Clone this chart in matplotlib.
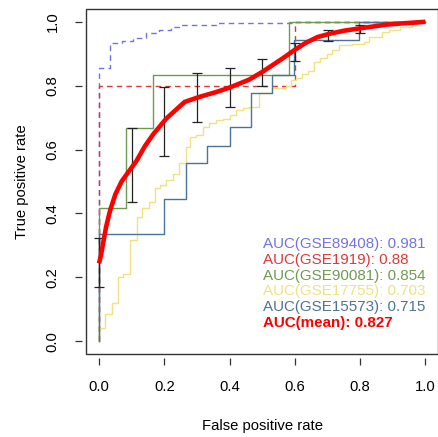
import matplotlib
matplotlib.use("Agg")
import matplotlib.pyplot as plt
from matplotlib.patches import Rectangle

plt.rcParams['font.family'] = ['Liberation Sans', 'DejaVu Sans']

# ROC corner points per dataset (false positive rate, true positive rate)
fpr_89408 = [0, 0, 0.034, 0.034, 0.069, 0.069, 0.104, 0.104, 0.143, 0.143, 0.183, 0.183,
             0.22, 0.22, 0.247, 0.247, 0.357, 0.357, 0.6, 0.6, 1.0]
tpr_89408 = [0, 0.855, 0.855, 0.934, 0.934, 0.939, 0.939, 0.95, 0.95, 0.966, 0.966, 0.975,
             0.975, 0.984, 0.984, 0.99, 0.99, 0.995, 0.995, 1.0, 1.0]

fpr_1919 = [0, 0, 0.6, 0.6, 1.0]
tpr_1919 = [0, 0.8, 0.8, 1.0, 1.0]

fpr_90081 = [0, 0, 1/12, 1/12, 2/12, 2/12, 7/12, 7/12, 1.0]
tpr_90081 = [0, 5/12, 5/12, 8/12, 8/12, 10/12, 10/12, 1.0, 1.0]

fpr_17755 = [0, 0, 0.018, 0.018, 0.039, 0.039, 0.059, 0.059, 0.074, 0.074, 0.095, 0.095,
             0.115, 0.115, 0.133, 0.133, 0.153, 0.153, 0.171, 0.171, 0.186, 0.186,
             0.206, 0.206, 0.226, 0.226, 0.245, 0.245, 0.265, 0.265, 0.28, 0.28,
             0.298, 0.298, 0.318, 0.318, 0.338, 0.338, 0.359, 0.359, 0.379, 0.379,
             0.4, 0.4, 0.42, 0.42, 0.44, 0.44, 0.46, 0.46, 0.491, 0.491, 0.53, 0.53,
             0.572, 0.572, 0.587, 0.587, 0.603, 0.603, 0.623, 0.623, 0.641, 0.641,
             0.658, 0.658, 0.677, 0.677, 0.697, 0.697, 0.714, 0.714, 0.735, 0.735,
             0.775, 0.775, 0.811, 0.811, 0.826, 0.826, 0.867, 0.867, 0.887, 0.887,
             0.923, 0.923, 0.958, 0.958, 0.979, 0.979, 1.0]
tpr_17755 = [0, 0.04, 0.04, 0.086, 0.086, 0.12, 0.12, 0.2, 0.2, 0.21, 0.21, 0.317,
             0.317, 0.39, 0.39, 0.416, 0.416, 0.437, 0.437, 0.479, 0.479, 0.489,
             0.489, 0.505, 0.505, 0.523, 0.523, 0.557, 0.557, 0.609, 0.609, 0.64,
             0.64, 0.645, 0.645, 0.671, 0.671, 0.682, 0.682, 0.692, 0.692, 0.697,
             0.697, 0.708, 0.708, 0.723, 0.723, 0.729, 0.729, 0.734, 0.734, 0.776, 0.776, 0.794,
             0.794, 0.8, 0.8, 0.817, 0.817, 0.824, 0.824, 0.836, 0.836, 0.846,
             0.846, 0.874, 0.874, 0.888, 0.888, 0.9, 0.9, 0.911, 0.911, 0.927,
             0.927, 0.932, 0.932, 0.937, 0.937, 0.952, 0.952, 0.968, 0.968, 0.973,
             0.973, 0.984, 0.984, 0.992, 0.992, 1.0, 1.0]

fpr_15573 = [0, 0, 0.199, 0.199, 0.267, 0.267, 0.331, 0.331, 0.4, 0.4, 0.465, 0.465,
             0.531, 0.531, 0.598, 0.598, 0.796, 0.796, 1.0]
tpr_15573 = [0, 0.336, 0.336, 0.445, 0.445, 0.557, 0.557, 0.612, 0.612, 0.671, 0.671,
             0.778, 0.778, 0.833, 0.833, 0.944, 0.944, 1.0, 1.0]

# averaged curve
fpr_mean = [0, 0.006, 0.013, 0.022, 0.034, 0.05, 0.069, 0.09, 0.115, 0.14, 0.166, 0.206,
            0.262, 0.308, 0.359, 0.4, 0.46, 0.5, 0.562, 0.598, 0.633, 0.669, 0.704,
            0.75, 0.796, 0.887, 1.0]
tpr_mean = [0.244, 0.27, 0.31, 0.36, 0.41, 0.46, 0.5, 0.53, 0.565, 0.61, 0.648, 0.697,
            0.749, 0.765, 0.78, 0.794, 0.819, 0.843, 0.885, 0.911, 0.934, 0.952, 0.962,
            0.972, 0.979, 0.992, 1.0]

# spread of TPR at fixed FPR
err_x = [0.0, 0.1, 0.2, 0.3, 0.4, 0.5, 0.6, 0.7, 0.8, 0.9]
err_lo = [0.171, 0.435, 0.58, 0.687, 0.733, 0.80, 0.877, 0.939, 0.966, 0.99]
err_hi = [0.322, 0.668, 0.796, 0.84, 0.854, 0.883, 0.935, 0.973, 0.991, 0.996]

labels = ['AUC(GSE89408): 0.981', 'AUC(GSE1919): 0.88', 'AUC(GSE90081): 0.854',
          'AUC(GSE17755): 0.703', 'AUC(GSE15573): 0.715', 'AUC(mean): 0.827']
colors = ['#7272E2', '#DD3838', '#6E9B50', '#EEE284', '#4C7398', '#FF0000']

fig = plt.figure(figsize=(4.39, 4.37), dpi=100)
ax = fig.add_axes([86 / 439, 83 / 437, 352.5 / 439, 345 / 437])
ax.set_xlim(-0.04, 1.04)
ax.set_ylim(-0.04, 1.04)

ax.plot(fpr_89408, tpr_89408, color=colors[0], lw=1.0, dashes=(4, 3))
ax.plot(fpr_1919, tpr_1919, color=colors[1], lw=1.0, dashes=(4, 3))
ax.plot(fpr_90081, tpr_90081, color=colors[2], lw=1.0)
ax.plot(fpr_17755, tpr_17755, color=colors[3], lw=1.0)
ax.plot(fpr_15573, tpr_15573, color=colors[4], lw=1.0)

mid = [(lo + hi) / 2 for lo, hi in zip(err_lo, err_hi)]
yerr = [[m - lo for m, lo in zip(mid, err_lo)], [hi - m for m, hi in zip(mid, err_hi)]]
ax.errorbar(err_x, mid, yerr=yerr, fmt='none', ecolor='#222222', elinewidth=0.9,
            capsize=3.6, capthick=0.9)
ax.plot(fpr_mean, tpr_mean, color=colors[5], lw=3.3, solid_capstyle='butt',
        solid_joinstyle='round')

# separate box, with the axes pulled slightly outward like base R
for side in ['left', 'bottom']:
    ax.spines[side].set_position(('outward', 3))
    ax.spines[side].set_color('none')
for side in ['top', 'right']:
    ax.spines[side].set_visible(False)
ax.add_patch(Rectangle((0, 0), 1, 1, transform=ax.transAxes, fill=False,
                       edgecolor='#333333', lw=1.0, clip_on=False))

ticks = [0.0, 0.2, 0.4, 0.6, 0.8, 1.0]
ax.set_xticks(ticks)
ax.set_yticks(ticks)
ax.set_xticklabels(['%.1f' % t for t in ticks])
ax.set_yticklabels(['%.1f' % t for t in ticks], rotation=90, va='center')
ax.tick_params(length=5, width=0.9, pad=11, labelsize=10.7, color='#333333')
ax.set_xlabel('False positive rate', fontsize=10.7, labelpad=18)
ax.set_ylabel('True positive rate', fontsize=10.7, labelpad=12)

for i, (txt, c) in enumerate(zip(labels, colors)):
    ax.text(0.502, (354 - 244 - 15.8 * i) / 345, txt, color=c, fontsize=10.9,
            fontweight='bold' if i == 5 else 'normal', va='center', ha='left',
            transform=ax.transAxes)

fig.savefig('out.png', dpi=100)
